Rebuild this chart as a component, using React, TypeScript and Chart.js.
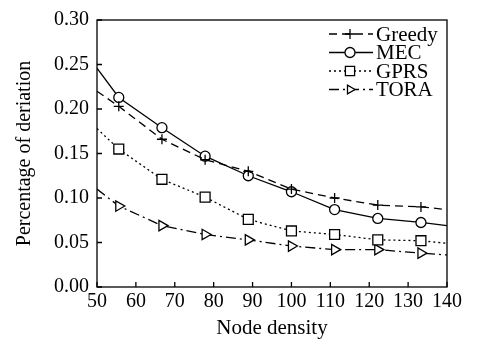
import React, { useEffect, useRef } from 'react';
import { Chart, registerables } from 'chart.js';

Chart.register(...registerables);

const FONT = '"Liberation Serif", serif';

const xValues = [50, 55.6, 66.7, 77.8, 88.9, 100, 111.1, 122.2, 133.3, 140];
const seriesNames = ['Greedy', 'MEC', 'GPRS', 'TORA'];
const greedy = [0.220, 0.203, 0.166, 0.143, 0.130, 0.110, 0.100, 0.092, 0.090, 0.087];
const mec = [0.246, 0.213, 0.179, 0.147, 0.125, 0.107, 0.087, 0.077, 0.0725, 0.069];
const gprs = [0.178, 0.155, 0.121, 0.101, 0.076, 0.063, 0.059, 0.053, 0.052, 0.049];
const tora = [0.110, 0.091, 0.069, 0.059, 0.053, 0.046, 0.042, 0.042, 0.038, 0.036];
const seriesValues = [greedy, mec, gprs, tora];
const xAxisTitle = 'Node density';
const yAxisTitle = 'Percentage of deriation';

const styles = [
  { dash: [8, 5], point: 'cross', rot: 0, radius: 5 },
  { dash: [], point: 'circle', rot: 0, radius: 5 },
  { dash: [2, 3], point: 'rect', rot: 0, radius: 7 },
  { dash: [10, 4, 2, 4], point: 'triangle', rot: 90, radius: 6 },
];

function drawMarker(ctx: CanvasRenderingContext2D, kind: string, x: number, y: number, r: number) {
  ctx.beginPath();
  if (kind === 'cross') {
    ctx.moveTo(x - r, y); ctx.lineTo(x + r, y);
    ctx.moveTo(x, y - r); ctx.lineTo(x, y + r);
    ctx.stroke();
    return;
  }
  if (kind === 'circle') {
    ctx.arc(x, y, r, 0, Math.PI * 2);
  } else if (kind === 'rect') {
    const s = r * Math.SQRT1_2;
    ctx.rect(x - s, y - s, 2 * s, 2 * s);
  } else if (kind === 'triangle') {
    const h = r * 0.75;
    ctx.moveTo(x + r, y);
    ctx.lineTo(x - r * 0.5, y - h * 1.15);
    ctx.lineTo(x - r * 0.5, y + h * 1.15);
    ctx.closePath();
  }
  ctx.fillStyle = '#fff';
  ctx.fill();
  ctx.stroke();
}

const framePlugin = {
  id: 'frameLegend',
  afterDatasetsDraw(chart: any) {
    const { ctx, chartArea } = chart;
    const { left, right, top, bottom } = chartArea;
    const xs = chart.scales.x;
    const ys = chart.scales.y;
    ctx.save();
    ctx.strokeStyle = '#000';
    ctx.lineWidth = 1.3;
    ctx.setLineDash([]);
    ctx.strokeRect(left, top, right - left, bottom - top);
    ctx.beginPath();
    xs.ticks.forEach((t: any) => {
      const px = xs.getPixelForValue(t.value);
      ctx.moveTo(px, bottom);
      ctx.lineTo(px, bottom - 5);
    });
    ys.ticks.forEach((t: any) => {
      const py = ys.getPixelForValue(t.value);
      ctx.moveTo(left, py);
      ctx.lineTo(left + 5, py);
    });
    ctx.stroke();

    // legend
    const lx0 = 329, lx1 = 373, mx = 350, tx = 376;
    const rows = [34, 52.5, 71, 89.5];
    ctx.font = `21px ${FONT}`;
    ctx.textBaseline = 'middle';
    ctx.textAlign = 'left';
    ctx.fillStyle = '#000';
    seriesNames.forEach((name, i) => {
      const st = styles[i];
      const y = rows[i];
      ctx.lineWidth = 1.3;
      ctx.setLineDash(st.dash);
      ctx.beginPath();
      ctx.moveTo(lx0, y);
      ctx.lineTo(lx1, y);
      ctx.stroke();
      ctx.setLineDash([]);
      drawMarker(ctx, st.point, mx, y, st.point === 'rect' ? 6.5 : 5);
      ctx.fillStyle = '#000';
      ctx.fillText(name, tx, y + 1);
    });
    ctx.restore();
  },
};

export default function App() {
  const ref = useRef<HTMLCanvasElement>(null);
  useEffect(() => {
    if (!ref.current) return;
    const chart = new Chart(ref.current, {
      type: 'line',
      data: {
        datasets: seriesNames.map((name, i) => ({
          label: name,
          data: xValues.map((x, j) => ({ x, y: seriesValues[i][j] })),
          borderColor: '#000',
          backgroundColor: '#fff',
          borderWidth: 1.3,
          borderDash: styles[i].dash,
          pointStyle: styles[i].point as any,
          pointRotation: styles[i].rot,
          pointRadius: xValues.map((_, j) => (j === 0 || j === xValues.length - 1 ? 0 : styles[i].radius)),
          pointBorderColor: '#000',
          pointBackgroundColor: '#fff',
          pointBorderWidth: 1.3,
          tension: 0,
          fill: false,
        })),
      },
      options: {
        animation: false,
        responsive: false,
        maintainAspectRatio: false,
        devicePixelRatio: 1,
        layout: { padding: { left: 0, top: 13, right: 33, bottom: 0 } },
        plugins: {
          legend: { display: false },
          tooltip: { enabled: false },
        },
        scales: {
          x: {
            type: 'linear',
            min: 50,
            max: 140,
            grid: { display: false, drawTicks: false },
            border: { display: false },
            ticks: {
              stepSize: 10,
              color: '#000',
              font: { family: FONT, size: 20 },
              padding: 3,
              maxRotation: 0,
              autoSkip: false,
            },
            title: {
              display: true,
              text: xAxisTitle,
              color: '#000',
              font: { family: FONT, size: 21 },
              padding: { top: 0, bottom: 10 },
            },
            afterFit: (s: any) => { s.height = 64; },
          },
          y: {
            type: 'linear',
            min: 0,
            max: 0.3,
            grid: { display: false, drawTicks: false },
            border: { display: false },
            ticks: {
              stepSize: 0.05,
              color: '#000',
              font: { family: FONT, size: 20 },
              padding: 8,
              callback: (v: any) => Number(v).toFixed(2),
            },
            title: {
              display: true,
              text: yAxisTitle,
              color: '#000',
              font: { family: FONT, size: 20 },
              padding: { top: 13, bottom: 0 },
            },
            afterFit: (s: any) => { s.width = 97; },
          },
        },
      },
      plugins: [framePlugin],
    });
    return () => chart.destroy();
  }, []);
  return (
    <div style={{ position: 'fixed', left: 0, top: 0, width: 480, height: 351, background: '#fff' }}>
      <canvas ref={ref} width={480} height={351} />
    </div>
  );
}
